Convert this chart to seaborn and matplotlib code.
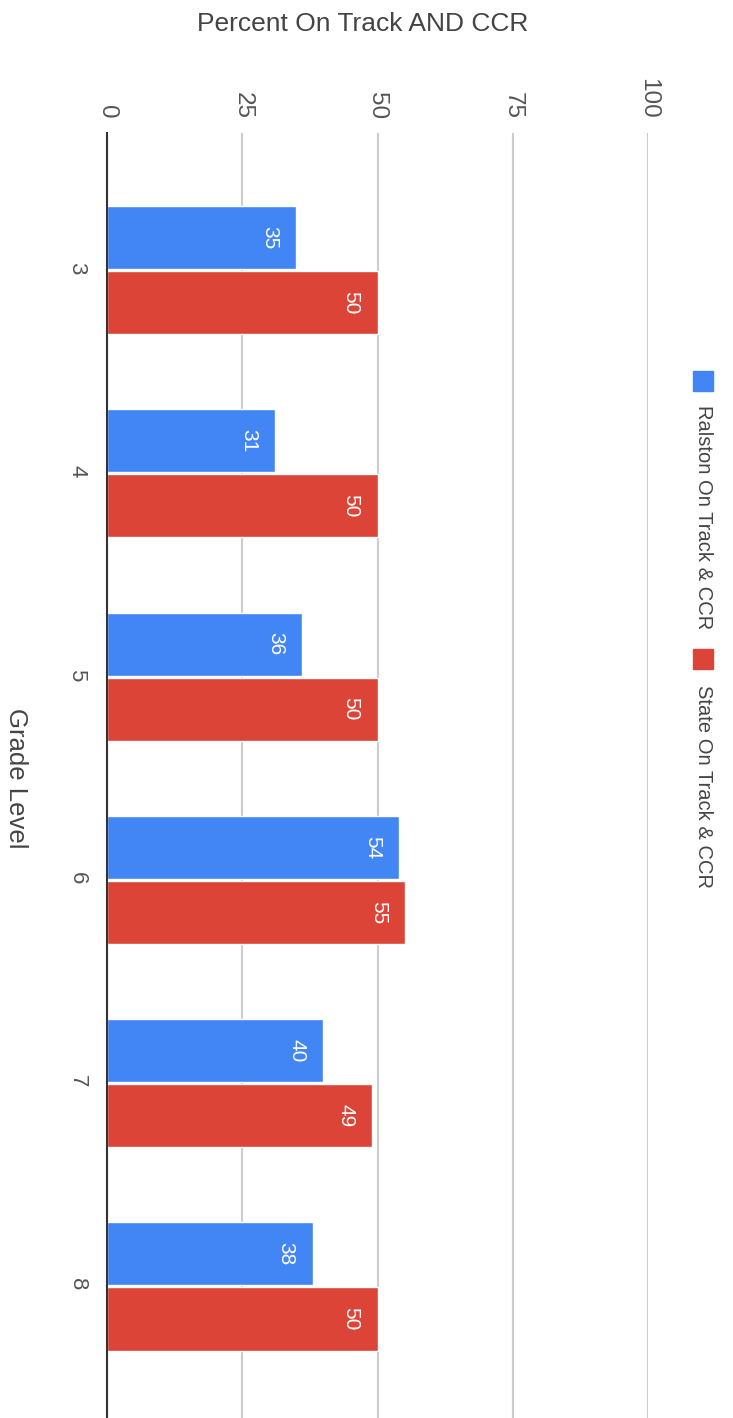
import pandas as pd
import seaborn as sns
import matplotlib.pyplot as plt
from matplotlib.patches import Rectangle

# data
grades = ['3', '4', '5', '6', '7', '8']
ralston = [35, 31, 36, 54, 40, 38]
state = [50, 50, 50, 55, 49, 50]
series_names = ['Ralston On Track & CCR', 'State On Track & CCR']
colors = ['#4285F4', '#DB4437']
x_ticks = [0, 25, 50, 75, 100]

df = pd.DataFrame({
    'grade': grades * 2,
    'value': ralston + state,
    'series': [series_names[0]] * len(grades) + [series_names[1]] * len(grades),
})

sns.set_style('white')
plt.rcParams['font.family'] = ['Liberation Sans', 'DejaVu Sans']

W, H = 733, 1418
fig = plt.figure(figsize=(W / 100, H / 100), dpi=100)
ax = fig.add_axes([107 / W, 0, (648 - 107) / W, (H - 133) / H])

sns.barplot(data=df, x='value', y='grade', hue='series', order=grades,
            hue_order=series_names, palette=colors, orient='h',
            width=0.64, gap=0.03, saturation=1, legend=False, ax=ax)

ax.set_xlim(0, 100)
ax.set_ylim(5.647, -0.674)
ax.set_xticks(x_ticks)
ax.xaxis.tick_top()
ax.tick_params(axis='x', length=0, pad=10, labelsize=17.5, labelcolor='#555555',
               labelrotation=-90)
ax.tick_params(axis='y', length=0, pad=14, labelsize=16, labelcolor='#555555',
               labelrotation=-90)
ax.set_xlabel('')
ax.set_ylabel('')
ax.grid(axis='x', color='#cccccc', linewidth=1.5)
ax.set_axisbelow(True)
for s in ['top', 'right', 'bottom']:
    ax.spines[s].set_visible(False)
ax.spines['left'].set_color('#333333')
ax.spines['left'].set_linewidth(1.5)
ax.spines['left'].set_zorder(5)

# value labels inside the bar ends
for cont in ax.containers:
    for patch in cont:
        w = patch.get_width()
        yc = patch.get_y() + patch.get_height() / 2
        ax.annotate(f'{w:.0f}', xy=(w, yc), xytext=(-19, 0),
                    textcoords='offset points', ha='center', va='center',
                    rotation=-90, color='white', fontsize=15)

# titles
fig.text(363 / W, 1 - 24 / H, 'Percent On Track AND CCR', ha='center',
         va='center', fontsize=19, color='#444444')
fig.text(16 / W, 1 - 778 / H, 'Grade Level', ha='center', va='center',
         rotation=-90, fontsize=18.5, color='#444444')

# legend, drawn sideways like the rest of the chart
leg_y = [381, 659]
text_top = [405, 685]
for name, col, sy, ty in zip(series_names, colors, leg_y, text_top):
    fig.add_artist(Rectangle(((703 - 10) / W, 1 - (sy + 10) / H), 20 / W, 20 / H,
                             transform=fig.transFigure, color=col))
    fig.text(703 / W, 1 - ty / H, name, ha='center', va='top', rotation=-90,
             fontsize=14.5, color='#444444')

fig.savefig('out.png', dpi=100)
